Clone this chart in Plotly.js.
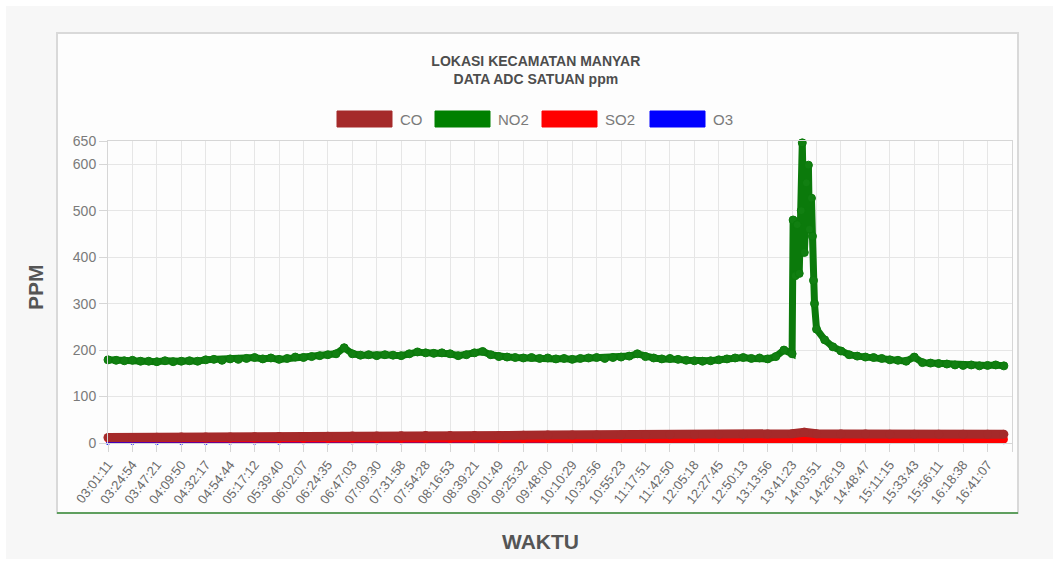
<!DOCTYPE html>
<html>
<head>
<meta charset="utf-8">
<script src="https://cdn.plot.ly/plotly-3.0.1.min.js"></script>
<style>html,body{margin:0;padding:0;background:#fff;}#chart{width:1059px;height:565px;}</style>
</head>
<body>
<div id="chart"></div>
<script>
// Tick labels (every 24 sample positions on the x axis)
const timeLabels = ["03:01:11","03:24:54","03:47:21","04:09:50","04:32:17","04:54:44","05:17:12","05:39:40","06:02:07","06:24:35","06:47:03","07:09:30","07:31:58","07:54:28","08:16:53","08:39:21","09:01:49","09:25:32","09:48:00","10:10:29","10:32:56","10:55:23","11:17:51","11:42:50","12:05:18","12:27:45","12:50:13","13:13:56","13:41:23","14:03:51","14:26:19","14:48:47","15:11:15","15:33:43","15:56:11","16:18:38","16:41:07"];
const tickPositions = [0,24,48,72,96,120,144,168,192,216,240,264,288,312,336,360,384,408,432,456,480,504,528,552,576,600,624,648,672,696,720,744,768,792,816,840,864,888];

// NO2 sample positions and values (ppm)
const no2X = [0,8,16,24,32,40,48,56,64,72,80,88,96,104,112,120,128,136,144,152,160,168,176,184,192,200,208,216,224,232,240,248,256,264,272,280,288,296,304,312,320,328,336,344,352,360,368,376,384,392,400,408,416,424,432,440,448,456,464,472,480,488,496,504,512,520,528,536,544,552,560,568,576,584,592,600,608,616,624,632,640,648,656,664,672,
673,675,677,679,681,682,684,686,688,689,691,692,693,694,
696,704,712,720,728,736,744,752,760,768,776,784,792,800,808,816,824,832,840,848,856,864,872,880];
const no2 = [179,178,177,178,176,176,175,177,175,176,
177,176,179,180,178,181,180,182,184,181,
183,180,182,185,184,186,188,190,192,205,
192,189,190,188,190,189,188,192,196,194,
193,194,192,188,190,194,197,190,186,185,
184,183,184,182,183,181,182,180,182,183,
184,182,184,185,187,192,186,183,181,182,
180,178,177,176,177,179,181,183,184,182,
183,181,186,200,192,
480,360,470,365,500,646,410,560,598,460,527,445,350,300,
245,222,207,198,190,187,185,184,182,179,178,176,185,173,172,171,170,168,167,168,166,167,168,166];

// CO, SO2, O3 sample positions and values (ppm)
const lowX = [0,24,48,72,96,120,144,168,192,216,240,264,288,312,336,360,384,408,432,456,480,504,528,552,576,600,624,648,672,684,696,720,744,768,792,816,840,864,880];
const co  = [12,12,12.5,13,13,13,13.5,14,14,14.5,15,15,15.5,16,16,16,16,16.5,17,17,17,17,17.5,18,18,18.5,19,19.5,20,23,20,19.5,19.5,19,19,19,19,19,19];
const so2 = [10,10,10,10,9.5,9.5,9.5,9,9,9,9,9,9,9,9,8.5,8.5,8.5,8.5,8.5,8.5,8.5,8.5,8.5,8.5,8.5,8.5,8.5,9,11,9,8.5,8,8,8,8,8,8,8];
const o3  = [0,0,0,0,0,0.5,0.5,0.5,1,1,1,1,1,1.5,1.5,1.5,1.5,1.5,1.5,1.5,1.5,1.5,1.5,1.5,1.5,1.5,2,2.5,3,9,3,1.5,1.5,1.5,1.5,1.5,1.5,1.5,1.5];

const seriesNames = ["CO","NO2","SO2","O3"];
const seriesColors = {CO:"#a52a2a", NO2:"#008000", SO2:"#ff0000", O3:"#0000ff"};
const yTicks = [0,100,200,300,400,500,600,650];
const xTitle = "WAKTU", yTitle = "PPM";

const FONT = "Liberation Sans, Arial, sans-serif";
const L = 108, R = 47, T = 141, B = 122, W = 1059, HH = 565;
const PW = W - L - R, PH = HH - T - B;
const px = v => (v - L) / PW;
const py = v => (HH - B - v) / PH;

const traces = [
  {name:"O3", x:lowX, y:o3, mode:"lines+markers", line:{color:seriesColors.O3, width:4}, marker:{size:4, color:seriesColors.O3}, cliponaxis:false, showlegend:false},
  {name:"SO2", x:lowX, y:so2, mode:"lines+markers", line:{color:seriesColors.SO2, width:8}, marker:{size:8, color:seriesColors.SO2}, cliponaxis:false, showlegend:false},
  {name:"NO2", x:no2X, y:no2, mode:"lines+markers", line:{color:"#0b7a0b", width:7}, marker:{size:8, color:"#117f11", line:{color:"#0b7a0b", width:1}}, cliponaxis:false, showlegend:false},
  {name:"CO", x:lowX, y:co, mode:"lines+markers", line:{color:seriesColors.CO, width:9}, marker:{size:9, color:seriesColors.CO}, cliponaxis:false, showlegend:false}
];

const shapes = [
  {type:"rect", xref:"paper", yref:"paper", x0:px(6), x1:px(1053), y0:py(559), y1:py(6), fillcolor:"#f7f7f7", line:{width:0}, layer:"below"},
  {type:"rect", xref:"paper", yref:"paper", x0:px(57), x1:px(1018), y0:py(513), y1:py(33), fillcolor:"#fdfdfd", line:{color:"#d9d9d9", width:2}, layer:"below"},
  {type:"line", xref:"paper", yref:"paper", x0:px(57), x1:px(1018), y0:py(513), y1:py(513), line:{color:"#5f9f5f", width:2}, layer:"below"}
];
const annotations = [
  {xref:"paper", yref:"paper", x:px(540), y:py(541), xanchor:"center", yanchor:"middle", text:"<b>"+xTitle+"</b>", showarrow:false, font:{family:FONT, size:21, color:"#555555"}},
  {xref:"paper", yref:"paper", x:px(35), y:py(287), xanchor:"center", yanchor:"middle", textangle:-90, text:"<b>"+yTitle+"</b>", showarrow:false, font:{family:FONT, size:21, color:"#555555"}}
];
const legendBoxes = [337, 435, 542, 650];
seriesNames.forEach((n, i) => {
  const x0 = legendBoxes[i];
  shapes.push({type:"rect", xref:"paper", yref:"paper", x0:px(x0), x1:px(x0+55), y0:py(127), y1:py(111), fillcolor:seriesColors[n], line:{color:seriesColors[n], width:1}});
  annotations.push({xref:"paper", yref:"paper", x:px(x0+61), y:py(119), xanchor:"left", yanchor:"middle", text:n, showarrow:false, font:{family:FONT, size:15, color:"#7a7a7a"}});
});

const layout = {
  width: W, height: HH,
  margin: {l:L, r:R, t:T, b:B},
  paper_bgcolor: "#ffffff",
  plot_bgcolor: "rgba(0,0,0,0)",
  showlegend: false,
  title: {text:"LOKASI KECAMATAN MANYAR<br>DATA ADC SATUAN ppm", x:0.506, xanchor:"center", y:1-66/HH, yanchor:"middle", font:{family:FONT, size:14, color:"#4d4d4d", weight:"bold"}},
  xaxis: {
    range:[0, 888], tickvals:tickPositions, ticktext:timeLabels.concat([""]),
    tickangle:-52, tickfont:{family:FONT, size:13, color:"#6a6a6a"},
    showgrid:true, gridcolor:"#e6e6e6", gridwidth:1, zeroline:false,
    showline:true, linecolor:"#d6d6d6", mirror:true,
    ticks:"outside", ticklen:8, tickcolor:"#d6d6d6"
  },
  yaxis: {
    range:[0, 650], tickvals:yTicks, ticktext:yTicks.map(String),
    tickfont:{family:FONT, size:14, color:"#7a7a7a"},
    showgrid:true, gridcolor:"#e6e6e6", gridwidth:1, zeroline:false,
    showline:true, linecolor:"#d6d6d6", mirror:true,
    ticks:"outside", ticklen:8, tickcolor:"#d6d6d6"
  },
  shapes: shapes,
  annotations: annotations
};

Plotly.newPlot("chart", traces, layout, {displayModeBar:false, staticPlot:true});
</script>
</body>
</html>
